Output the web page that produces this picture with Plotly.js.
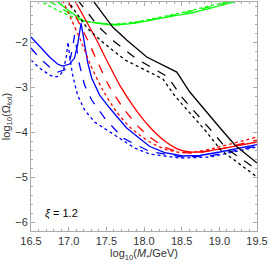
<!DOCTYPE html>
<html><head><meta charset="utf-8">
<script src="https://cdn.plot.ly/plotly-3.0.1.min.js"></script>
<style>html,body{margin:0;padding:0;background:#fff}#c{width:270px;height:262px}</style>
</head><body><div id="c"></div>
<script>
// black
const blackSolidX = [17.318, 17.584, 17.77, 18.036, 18.435, 18.608, 19.033, 19.206, 19.5];
const blackSolidY = [-1.067, -1.667, -1.956, -2.333, -2.667, -3.111, -3.956, -4.289, -4.69];
const blackDashX = [17.12, 17.40, 17.60, 17.88, 18.32, 18.49, 18.91, 19.09, 19.5];
const blackDashY = [-1.067, -1.667, -1.98, -2.35, -2.78, -3.2, -4.0, -4.36, -4.84];
const blackDotX = [16.98, 17.25, 17.47, 17.75, 18.25, 18.41, 18.83, 19.02, 19.5];
const blackDotY = [-1.067, -1.7, -2.03, -2.40, -2.82, -3.2, -4.0, -4.4, -5.0];
// red
const redSolidX = [17.078, 17.225, 17.371, 17.517, 17.677, 17.876, 18.076, 18.275, 18.448, 18.608, 18.807, 19.073, 19.5];
const redSolidY = [-1.067, -1.511, -1.956, -2.444, -2.956, -3.467, -3.889, -4.2, -4.378, -4.444, -4.433, -4.356, -4.222];
const redDashX = [16.985, 17.118, 17.251, 17.384, 17.544, 17.743, 17.943, 18.076, 18.275, 18.475, 18.674, 18.94, 19.5];
const redDashY = [-1.067, -1.511, -1.956, -2.444, -3.0, -3.511, -3.911, -4.111, -4.333, -4.444, -4.467, -4.4, -4.178];
const redDotX = [16.919, 17.039, 17.158, 17.291, 17.438, 17.637, 17.81, 17.943, 18.076, 18.275, 18.475, 18.674, 18.94, 19.5];
const redDotY = [-1.067, -1.511, -1.956, -2.511, -3.022, -3.556, -3.889, -4.067, -4.222, -4.378, -4.456, -4.444, -4.356, -4.111];
// blue
const blueSolidX = [16.5, 16.613, 16.746, 16.852, 16.919, 17.012, 17.078, 17.118, 17.145, 17.165, 17.185, 17.211, 17.251, 17.305, 17.411, 17.544, 17.77, 18.076, 18.275, 18.515, 18.741, 19.007, 19.5];
const blueSolidY = [-1.889, -2.089, -2.333, -2.489, -2.533, -2.489, -2.356, -2.067, -1.778, -1.578, -1.778, -2.067, -2.444, -2.8, -3.178, -3.467, -3.911, -4.322, -4.456, -4.533, -4.522, -4.444, -4.278];
const blueDashX = [16.5, 16.613, 16.746, 16.852, 16.945, 17.012, 17.052, 17.078, 17.105, 17.145, 17.211, 17.305, 17.477, 17.717, 18.076, 18.515, 18.874, 19.5];
const blueDashY = [-2.133, -2.356, -2.556, -2.667, -2.622, -2.444, -2.133, -1.844, -2.133, -2.511, -2.956, -3.289, -3.689, -4.133, -4.433, -4.556, -4.533, -4.311];
const blueDotX = [16.5, 16.613, 16.746, 16.813, 16.879, 16.932, 16.972, 16.992, 17.012, 17.052, 17.118, 17.211, 17.344, 17.584, 17.876, 18.076, 18.475, 18.874, 19.5];
const blueDotY = [-2.4, -2.578, -2.733, -2.778, -2.756, -2.622, -2.289, -2.0, -2.289, -2.733, -3.178, -3.511, -3.778, -4.044, -4.356, -4.489, -4.578, -4.556, -4.333];
// green
const greenSolidX = [16.826, 17.0, 17.185, 17.584, 17.876, 18.448, 18.61, 19.286];
const greenSolidY = [-1.067, -1.3, -1.51, -1.62, -1.58, -1.40, -1.36, -1.067];
const greenDashX = [16.72, 16.95, 17.185, 17.584, 17.876, 18.448, 19.25];
const greenDashY = [-1.067, -1.3, -1.52, -1.61, -1.57, -1.38, -1.067];
const greenDotX = [16.59, 16.9, 17.185, 17.584, 17.876, 18.448, 19.2];
const greenDotY = [-1.067, -1.33, -1.53, -1.60, -1.555, -1.365, -1.067];

const xTicks = [16.5, 17.0, 17.5, 18.0, 18.5, 19.0, 19.5];
const yTicks = [-6, -5, -4, -3, -2];
const annText = "<i>ξ</i> = 1.2";

function tr(x, y, color, dash, shape) {
  return {x: x, y: y, type: 'scatter', mode: 'lines', hoverinfo: 'skip',
    line: {color: color, dash: dash, width: 1.3, shape: shape || 'spline', smoothing: 0.6}};
}
const data = [
  tr(greenDotX, greenDotY, '#00ff00', 'dot'),
  tr(greenDashX, greenDashY, '#00ff00', 'dash'),
  tr(greenSolidX, greenSolidY, '#00ff00', 'solid'),
  tr(blueDotX, blueDotY, '#0000ff', 'dot', 'linear'),
  tr(blueDashX, blueDashY, '#0000ff', 'dash', 'linear'),
  tr(blueSolidX, blueSolidY, '#0000ff', 'solid', 'linear'),
  tr(redDotX, redDotY, '#ff0000', 'dot'),
  tr(redDashX, redDashY, '#ff0000', 'dash'),
  tr(redSolidX, redSolidY, '#ff0000', 'solid'),
  tr(blackDotX, blackDotY, '#000000', 'dot', 'linear'),
  tr(blackDashX, blackDashY, '#000000', 'dash', 'linear'),
  tr(blackSolidX, blackSolidY, '#000000', 'solid', 'linear')
];
const axCommon = {showgrid: false, zeroline: false, showline: true, linecolor: '#aaaaaa', linewidth: 1,
  mirror: 'allticks', ticks: 'inside', ticklen: 4, tickcolor: '#aaaaaa', tickwidth: 1,
  tickfont: {family: 'Liberation Sans, Arial, sans-serif', size: 11, color: '#333'}};
const layout = {
  width: 270, height: 262, showlegend: false,
  paper_bgcolor: '#fff', plot_bgcolor: '#fff',
  margin: {l: 31, r: 13, t: 2, b: 31},
  xaxis: Object.assign({}, axCommon, {range: [16.5, 19.5], tickvals: xTicks, ticktext: xTicks.map(v => v.toFixed(1)),
    minor: {dtick: 0.1, ticklen: 2, ticks: 'inside', tickcolor: '#aaaaaa'},
    title: {text: 'log<sub>10</sub>(<i>M</i><sub>*</sub>/GeV)', standoff: 3, font: {family: 'Liberation Sans, Arial, sans-serif', size: 11, color: '#333'}}}),
  yaxis: Object.assign({}, axCommon, {range: [-6.2, -1.11], tickvals: yTicks,
    minor: {dtick: 0.2, ticklen: 2, ticks: 'inside', tickcolor: '#aaaaaa'},
    title: {text: 'log<sub>10</sub>(Ω<sub>tot</sub>)', standoff: 2, font: {family: 'Liberation Sans, Arial, sans-serif', size: 11, color: '#333'}}}),
  annotations: [{x: 16.66, y: -5.8, xref: 'x', yref: 'y', text: annText, showarrow: false, xanchor: 'left', yanchor: 'middle',
    font: {family: 'Liberation Sans, Arial, sans-serif', size: 11, color: '#000'}}]
};
Plotly.newPlot('c', data, layout, {staticPlot: true, displayModeBar: false});
</script></body></html>
